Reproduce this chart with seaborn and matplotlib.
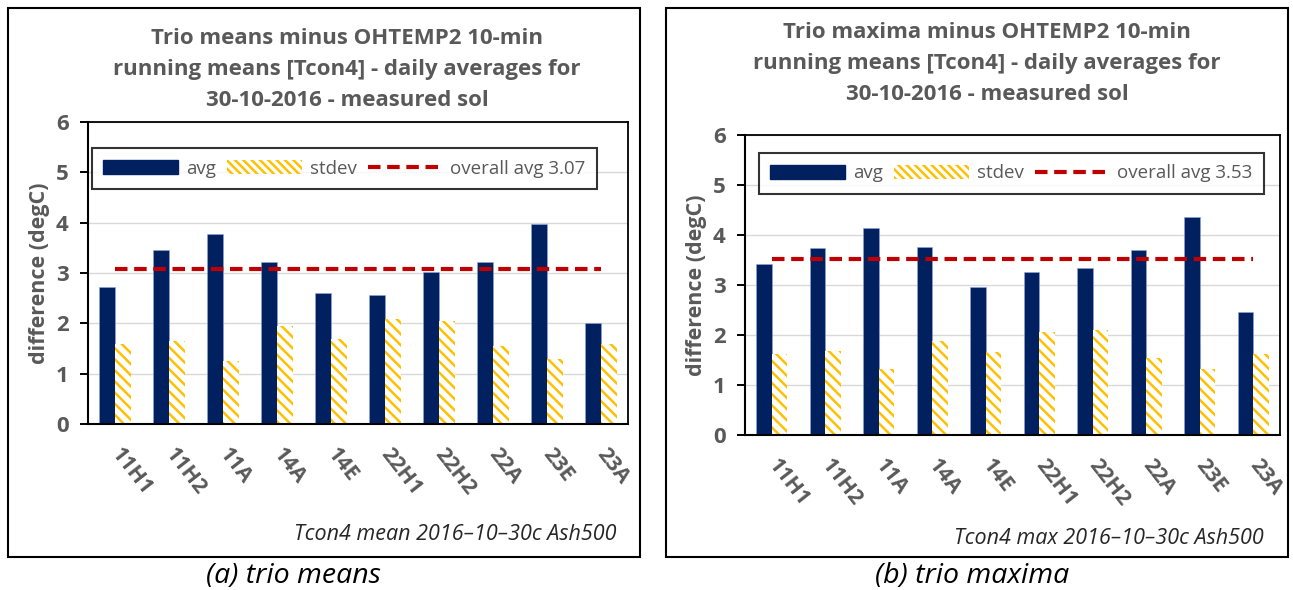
import matplotlib
matplotlib.use("Agg")
import matplotlib.pyplot as plt
import seaborn as sns
import pandas as pd
from matplotlib.patches import Patch, Rectangle
from matplotlib.lines import Line2D

sensors = ["11H1", "11H2", "11A", "14A", "14E", "22H1", "22H2", "22A", "23E", "23A"]
mean_avg = [2.72, 3.45, 3.77, 3.21, 2.61, 2.57, 3.02, 3.21, 3.97, 2.01]
mean_std = [1.58, 1.65, 1.25, 1.94, 1.69, 2.09, 2.05, 1.54, 1.29, 1.58]
mean_overall = 3.07
max_avg = [3.42, 3.74, 4.14, 3.77, 2.97, 3.26, 3.34, 3.70, 4.37, 2.46]
max_std = [1.62, 1.69, 1.33, 1.89, 1.66, 2.06, 2.10, 1.54, 1.33, 1.62]
max_overall = 3.53

titles = [
    "Trio means minus OHTEMP2 10-min\nrunning means [Tcon4] - daily averages for\n30-10-2016 - measured sol",
    "Trio maxima minus OHTEMP2 10-min\nrunning means [Tcon4] - daily averages for\n30-10-2016 - measured sol",
]
footers = ["Tcon4 mean 2016\u201310\u201330c Ash500", "Tcon4 max 2016\u201310\u201330c Ash500"]
captions = ["(a) trio means", "(b) trio maxima"]
ylabel = "difference (degC)"

NAVY = "#002060"
GOLD = "#FFC000"
RED = "#C00000"
GREY = "#595959"

sns.set_theme(style="white")
plt.rcParams["font.family"] = ["Open Sans", "DejaVu Sans"]
plt.rcParams["hatch.linewidth"] = 1.8

fig = plt.figure(figsize=(12.93, 5.90), dpi=100)

W, H = 1293, 590
def fx(px):
    return px / W
def fy(py):
    return 1 - py / H

panels = [
    dict(avg=mean_avg, std=mean_std, overall=mean_overall,
         ax=(88, 628, 122, 424), frame=(8, 640, 8, 557), title_x=347, title_y=28,
         legend=(94, 145, 595, 192), footer=(617, 534), caption=(293, 576)),
    dict(avg=max_avg, std=max_std, overall=max_overall,
         ax=(745, 1280, 135, 435), frame=(666, 1288, 8, 557), title_x=987, title_y=22,
         legend=(760, 152, 1263, 195), footer=(1264, 538), caption=(972, 576)),
]

for i, p in enumerate(panels):
    x0, x1, y0, y1 = p["ax"]
    ax = fig.add_axes([fx(x0), fy(y1), fx(x1 - x0), (y1 - y0) / H])
    df = pd.DataFrame({
        "sensor": sensors * 2,
        "value": list(p["avg"]) + list(p["std"]),
        "series": ["avg"] * len(sensors) + ["stdev"] * len(sensors),
    })
    sns.barplot(data=df, x="sensor", y="value", hue="series", palette=[NAVY, GOLD],
                width=0.58, legend=False, ax=ax, saturation=1)
    for bar in ax.containers[0]:
        bar.set_edgecolor("#8EA9DB")
        bar.set_linewidth(0.4)
    for bar in ax.containers[1]:
        bar.set_facecolor("white")
        bar.set_edgecolor(GOLD)
        bar.set_hatch("\\\\\\")
        bar.set_linewidth(0)
    ax.plot(range(len(sensors)), [p["overall"]] * len(sensors), color=RED,
            lw=3, ls=(0, (3, 1.6)), zorder=4)
    ax.set_ylim(0, 6)
    ax.set_xlim(-0.5, len(sensors) - 0.5)
    ax.set_yticks(range(7))
    ax.yaxis.grid(True, color="#D9D9D9", lw=1)
    ax.set_axisbelow(True)
    for s in ax.spines.values():
        s.set_visible(True)
        s.set_color("black")
        s.set_linewidth(1.3)
    ax.spines["left"].set_linewidth(1.5)
    ax.spines["bottom"].set_linewidth(1.5)
    ax.tick_params(axis="y", length=6, width=1.4, color="black", direction="out",
                   labelsize=16, labelcolor=GREY, pad=8, left=True)
    ax.tick_params(axis="x", length=0, labelsize=15.5, labelcolor=GREY, pad=19)
    for t in ax.get_yticklabels():
        t.set_fontweight("bold")
    ax.set_xticks(range(len(sensors)))
    ax.set_xticklabels(sensors, rotation=-52, ha="left", va="center",
                       rotation_mode="anchor", fontweight="bold")
    ax.set_xlabel("")
    ax.set_ylabel(ylabel, fontsize=15.5, fontweight="bold", color=GREY, labelpad=4)

    # legend
    lx0, ly0, lx1, ly1 = p["legend"]
    handles = [
        Patch(facecolor=NAVY, edgecolor=NAVY),
        Patch(facecolor="white", edgecolor=GOLD, hatch="\\\\\\\\", lw=0),
        Line2D([0], [0], color=RED, lw=3, ls=(0, (3, 1.6))),
    ]
    labels = ["avg", "stdev", "overall avg %.2f" % p["overall"]]
    leg = fig.legend(handles, labels, ncol=3, loc="center",
                     bbox_to_anchor=(fx((lx0 + lx1) / 2), fy((ly0 + ly1) / 2)),
                     frameon=True, fancybox=False, fontsize=13.5, handlelength=4.0,
                     handleheight=0.7, columnspacing=0.6, handletextpad=0.4,
                     borderpad=0.6, labelcolor=GREY)
    leg.get_frame().set_edgecolor("black")
    leg.get_frame().set_linewidth(1.5)

    # title
    fig.text(fx(p["title_x"]), fy(p["title_y"]), titles[i], ha="center", va="top",
             fontsize=16, fontweight="bold", color=GREY, linespacing=1.62)
    # footer
    fig.text(fx(p["footer"][0]), fy(p["footer"][1]), footers[i], ha="right", va="center",
             fontsize=15.5, fontstyle="italic", color="#262626")
    # caption
    fig.text(fx(p["caption"][0]), fy(p["caption"][1]), captions[i], ha="center",
             va="center", fontsize=20.5, fontstyle="italic", color="black")
    # frame
    a, b, c, d = p["frame"]
    fig.add_artist(Rectangle((fx(a), fy(d)), fx(b - a), (d - c) / H,
                             transform=fig.transFigure, fill=False,
                             edgecolor="black", lw=1.5))

fig.savefig("out.png", dpi=100)
